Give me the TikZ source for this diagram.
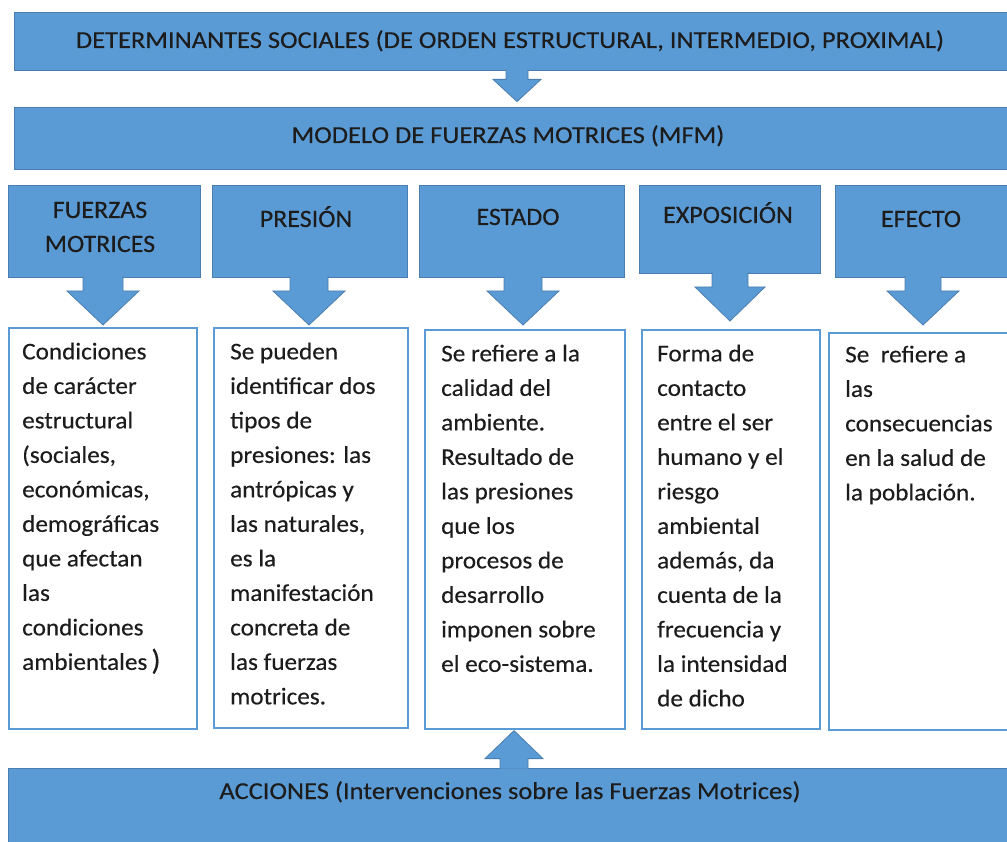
\documentclass[tikz,border=0pt]{standalone}
\usepackage{fontspec}
\setmainfont{Carlito}
\newfontfamily\barfont[FakeStretch=1.09, FakeBold=0.3]{Carlito}
\newfontfamily\cardfont[FakeStretch=1.05, FakeBold=0.3]{Carlito}
\newfontfamily\headfont[FakeStretch=1.04, FakeBold=0.3]{Carlito}
\usetikzlibrary{calc}

\definecolor{barblue}{HTML}{5B9BD5}
\definecolor{edgeblue}{HTML}{4A7EB0}
\definecolor{inkgray}{HTML}{1C1C1C}

\tikzset{
  bar/.style={fill=barblue, draw=edgeblue, line width=0.8pt, inner sep=0pt},
  bartext/.style={text=inkgray, font=\barfont\fontsize{24.3}{28}\selectfont, inner sep=0pt, anchor=base},
  headbox/.style={fill=barblue, draw=edgeblue, line width=0.8pt, inner sep=0pt, anchor=north west},
  headtext/.style={text=inkgray, font=\headfont\fontsize{25}{34}\selectfont, align=center, inner sep=0pt, anchor=north},
  card/.style={fill=white, draw=barblue, line width=1.6pt, inner sep=0pt, anchor=north west},
  cardtext/.style={text=inkgray, font=\cardfont\fontsize{24}{34.5}\selectfont, align=left, inner sep=0pt, anchor=north west},
}

\begin{document}
\begin{tikzpicture}[x=1pt, y=-1pt]
  \useasboundingbox[fill=white] (0,0) rectangle (1007,842);

  % barras superiores
  \node[bar, minimum width=1006pt, minimum height=58pt] (detbar) at (517,41) {};
  \node[bartext] (dettext) at (510,48) {DETERMINANTES SOCIALES (DE ORDEN ESTRUCTURAL, INTERMEDIO, PROXIMAL)};
  \node[bar, minimum width=1006pt, minimum height=62pt] (mfmbar) at (517,138) {};
  \node[bartext] (mfmtext) at (508,143) {MODELO DE FUERZAS MOTRICES (MFM)};

  \filldraw[bar] ($(detbar.south)+(-11,-1)$) -- ++(0,10) -- ++(-13,0) -- ($(mfmbar.north)+(0,-5)$)
      -- ($(detbar.south)+(24,9)$) -- ++(-13,0) -- ++(0,-10);

  % encabezados con flecha
  \foreach \n/\xl/\xr/\yb/\xc/\sh/\hh in {fm/8/200/277/103/20/36, pr/212/407/277/309/19/36,
      es/419/624/277/523/19/36, ex/639/820/273/730/18/35, ef/835/1020/277/923/18/36}
  {
    \node[headbox, minimum width={(\xr-\xl)*1pt}, minimum height={(\yb-185)*1pt}] (\n) at (\xl,185) {};
    \filldraw[bar] ({\xc-\sh},{\yb-1}) -- ({\xc-\sh},{\yb+14}) -- ({\xc-\hh},{\yb+14})
      -- (\xc,{\yb+48}) -- ({\xc+\hh},{\yb+14}) -- ({\xc+\sh},{\yb+14}) -- ({\xc+\sh},{\yb-1});
  }

  \node[headtext] (fmlabel) at (100,194) {\strut FUERZAS\\MOTRICES};
  \node[headtext] (prlabel) at (306,203) {\strut PRESIÓN};
  \node[headtext] (eslabel) at (518,201) {\strut ESTADO};
  \node[headtext] (exlabel) at (728,199) {\strut EXPOSICIÓN};
  \node[headtext] (eflabel) at (921,203) {\strut EFECTO};

  % cajas de texto
  \node[card, minimum width=188pt, minimum height=401pt] (fmcard) at (8,327) {};
  \node[card, minimum width=194pt, minimum height=400pt] (prcard) at (213,327) {};
  \node[card, minimum width=200pt, minimum height=399pt] (escard) at (424,329) {};
  \node[card, minimum width=178pt, minimum height=399pt] (excard) at (641,329) {};
  \node[card, minimum width=190pt, minimum height=397pt] (efcard) at (828,332) {};

  \node[cardtext] (fmtext) at (22,335) {\strut Condiciones\\de carácter\\estructural\\(sociales,\\económicas,\\demográficas\\que afectan\\las\\condiciones\\ambientales\,{\fontsize{29}{34.5}\selectfont)}};
  \node[cardtext] (prtext) at (230,335) {\strut Se pueden\\identificar dos\\tipos de\\presiones: las\\antrópicas y\\las naturales,\\es la\\manifestación\\concreta de\\las fuerzas\\motrices.};
  \node[cardtext] (estext) at (441,337) {\strut Se refiere a la\\calidad del\\ambiente.\\Resultado de\\las presiones\\que los\\procesos de\\desarrollo\\imponen sobre\\el eco-sistema.};
  \node[cardtext] (extext) at (657,337) {\strut Forma de\\contacto\\entre el ser\\humano y el\\riesgo\\ambiental\\además, da\\cuenta de la\\frecuencia y\\la intensidad\\de dicho};
  \node[cardtext] (eftext) at (845,338) {\strut Se\ \ refiere a\\las\\consecuencias\\en la salud de\\la población.};

  % barra inferior
  \node[bar, minimum width=1012pt, minimum height=82pt] (accbar) at (514,809) {};
  \node[bartext] (acctext) at (510,799) {ACCIONES (Intervenciones sobre las Fuerzas Motrices)};

  \filldraw[bar] ($(accbar.north -| 514,0)+(-14,1)$) -- ++(0,-10) -- ++(-15,0) -- ($(escard.south -| 514,0)+(0,1)$)
      -- ($(accbar.north -| 514,0)+(29,-9)$) -- ++(-15,0) -- ++(0,10);
\end{tikzpicture}
\end{document}
